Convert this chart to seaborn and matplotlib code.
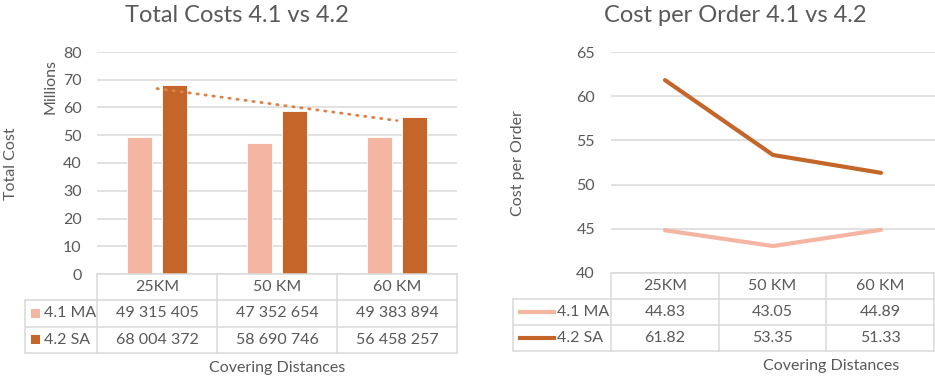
import numpy as np
import pandas as pd
import matplotlib
matplotlib.use("Agg")
import matplotlib.pyplot as plt
from matplotlib.lines import Line2D
from matplotlib.patches import Rectangle
import seaborn as sns

# ---- data ----
distances = ["25KM", "50 KM", "60 KM"]
series = ["4.1 MA", "4.2 SA"]
total_cost_ma = [49315405, 47352654, 49383894]
total_cost_sa = [68004372, 58690746, 56458257]
cost_per_order_ma = [44.83, 43.05, 44.89]
cost_per_order_sa = [61.82, 53.35, 51.33]
total_ticks = [0, 10, 20, 30, 40, 50, 60, 70, 80]
order_ticks = [40, 45, 50, 55, 60, 65]

LIGHT = "#F4B6A2"
DARK = "#C4652A"
TREND = "#DD8247"
GRID = "#D9D9D9"
TXT = "#595959"
FS = 11.5
palette = {series[0]: LIGHT, series[1]: DARK}

sns.set_theme(style="white")
plt.rcParams["font.family"] = ["Lato", "DejaVu Sans"]

W, H = 935, 377
fig = plt.figure(figsize=(W / 100, H / 100), dpi=100)
fig.patch.set_facecolor("white")


def fx(x):
    return x / W


def fy(y):
    return 1 - y / H


def add_axes(left, right, top, bottom):
    return fig.add_axes([fx(left), fy(bottom), (right - left) / W, (bottom - top) / H])


def hline(x0, x1, y):
    fig.add_artist(Line2D([fx(x0), fx(x1)], [fy(y), fy(y)], color=GRID, lw=1.1))


def vline(x, y0, y1):
    fig.add_artist(Line2D([fx(x), fx(x)], [fy(y0), fy(y1)], color=GRID, lw=1.1))


def data_table(left, right, bottom, row_h, label_left, rows, key_kind):
    """Excel-style data table under the axis: header row + one row per series."""
    cat_w = (right - left) / len(distances)
    t0, t1, t2, t3 = bottom, bottom + row_h, bottom + 2 * row_h, bottom + 3 * row_h
    hline(left, right, t0)
    hline(label_left, right, t1)
    hline(label_left, right, t2)
    hline(label_left, right, t3)
    for i in range(len(distances) + 1):
        vline(left + i * cat_w, t0, t3)
    vline(label_left, t1, t3)
    for i, d in enumerate(distances):
        fig.text(fx(left + (i + 0.5) * cat_w), fy((t0 + t1) / 2), d,
                 ha="center", va="center", fontsize=FS, color=TXT)
    for r, (name, vals, fmt) in enumerate(rows):
        yc = t1 + (r + 0.5) * row_h
        col = palette[name]
        if key_kind == "square":
            fig.add_artist(Rectangle((fx(label_left + 6), fy(yc + 4.5)), 9 / W, 9 / H,
                                     color=col, lw=0))
            tx = label_left + 19
        else:
            fig.add_artist(Line2D([fx(label_left + 5), fx(label_left + 43)], [fy(yc), fy(yc)],
                                  color=col, lw=3.0, solid_capstyle="butt"))
            tx = label_left + 44
        fig.text(fx(tx), fy(yc), name, ha="left", va="center", fontsize=FS, color=TXT)
        for i, v in enumerate(vals):
            fig.text(fx(left + (i + 0.5) * cat_w), fy(yc), fmt(v),
                     ha="center", va="center", fontsize=FS, color=TXT)


def style_axes(ax, ticks, pad):
    ax.set_yticks(ticks)
    ax.set_yticklabels([str(t) for t in ticks], fontsize=FS, color=TXT)
    ax.set_xticks([])
    ax.set_xlabel("")
    ax.set_ylabel("")
    ax.grid(axis="y", color=GRID, lw=1.1)
    ax.set_axisbelow(True)
    for s in ax.spines.values():
        s.set_visible(False)
    ax.tick_params(axis="y", length=0, pad=pad)


def space_thousands(v):
    return f"{v:,}".replace(",", " ")


# ---- left: total costs (bars) ----
L_LEFT, L_RIGHT, L_TOP, L_BOTTOM = 97, 457, 52, 274
ax1 = add_axes(L_LEFT, L_RIGHT, L_TOP, L_BOTTOM)
cost_df = pd.DataFrame({
    "distance": distances * 2,
    "series": [series[0]] * 3 + [series[1]] * 3,
    "millions": [v / 1e6 for v in total_cost_ma + total_cost_sa],
})
sns.barplot(data=cost_df, x="distance", y="millions", hue="series", palette=palette,
            order=distances, hue_order=series, width=0.584, gap=0.26,
            saturation=1, legend=False, ax=ax1, edgecolor="white", linewidth=0.6)
sa_m = np.array(total_cost_sa) / 1e6
xs = np.arange(len(distances))
slope, intercept = np.polyfit(xs, sa_m, 1)
ax1.plot(xs, slope * xs + intercept, color=TREND, lw=2.0, linestyle=(0, (0.5, 2.4)),
         dash_capstyle="round")
ax1.set_xlim(-0.5, 2.5)
ax1.set_ylim(0, 80)
style_axes(ax1, total_ticks, 11)

fig.text(fx(237), fy(15), "Total Costs 4.1 vs 4.2", ha="center", va="center",
         fontsize=17, color=TXT)
fig.text(fx(11), fy(164), "Total Cost", ha="center", va="center", rotation=90,
         fontsize=FS, color=TXT)
fig.text(fx(50), fy(87), "Millions", ha="center", va="center", rotation=90,
         fontsize=FS, color=TXT)
fig.text(fx(277), fy(368), "Covering Distances", ha="center", va="center",
         fontsize=FS, color=TXT)
data_table(L_LEFT, L_RIGHT, L_BOTTOM, 26.3, 25,
           [(series[0], total_cost_ma, space_thousands),
            (series[1], total_cost_sa, space_thousands)], "square")

# ---- right: cost per order (lines) ----
R_LEFT, R_RIGHT, R_TOP, R_BOTTOM = 611, 935, 52, 273
ax2 = add_axes(R_LEFT, R_RIGHT, R_TOP, R_BOTTOM)
order_df = pd.DataFrame({
    "pos": list(xs) * 2,
    "series": [series[0]] * 3 + [series[1]] * 3,
    "cost": cost_per_order_ma + cost_per_order_sa,
})
sns.lineplot(data=order_df[order_df["series"] == series[0]], x="pos", y="cost",
             color=LIGHT, lw=3.0, ax=ax2, legend=False)
sns.lineplot(data=order_df[order_df["series"] == series[1]], x="pos", y="cost",
             color=DARK, lw=3.0, ax=ax2, legend=False)
ax2.set_xlim(-0.5, 2.5)
ax2.set_ylim(40, 65)
style_axes(ax2, order_ticks, 11.5)

fig.text(fx(735), fy(16), "Cost per Order 4.1 vs 4.2", ha="center", va="center",
         fontsize=17, color=TXT)
fig.text(fx(518), fy(163), "Cost per Order", ha="center", va="center", rotation=90,
         fontsize=FS, color=TXT)
fig.text(fx(831), fy(366), "Covering Distances", ha="center", va="center",
         fontsize=FS, color=TXT)
data_table(R_LEFT, R_RIGHT - 1, R_BOTTOM, 26, 513,
           [(series[0], cost_per_order_ma, lambda v: f"{v:.2f}"),
            (series[1], cost_per_order_sa, lambda v: f"{v:.2f}")], "line")

fig.savefig("out.png", dpi=100, facecolor="white")
